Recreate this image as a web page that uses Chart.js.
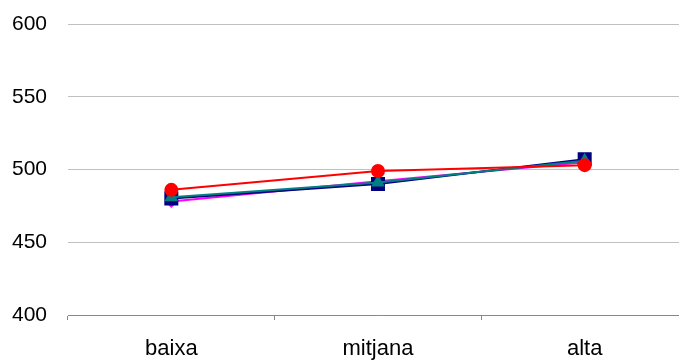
<!DOCTYPE html>
<html>
<head>
<meta charset="utf-8">
<script src="https://cdn.jsdelivr.net/npm/chart.js"></script>
<style>
  html, body { margin: 0; padding: 0; background: #fff; overflow: hidden; }
  #wrap { width: 679px; height: 362px; overflow: hidden; }
  #chart { width: 700px; height: 362px; display: block; }
</style>
</head>
<body>
<div id="wrap"><canvas id="chart" width="700" height="362"></canvas></div>
<script>
// categories and series
const categories = ['baixa', 'mitjana', 'alta'];
const redSeries = [486, 499, 503];
const tealSeries = [481, 491, 506];
const navySeries = [480, 490, 507];
const magentaSeries = [478, 492, 505];
const yTicks = [400, 450, 500, 550, 600];

const family = '"Liberation Sans", Arial, sans-serif';

const ctx = document.getElementById('chart').getContext('2d');
new Chart(ctx, {
  type: 'line',
  data: {
    labels: categories,
    datasets: [
      { data: redSeries, borderColor: '#ff0000', backgroundColor: '#ff0000', pointStyle: 'circle', pointRadius: 6, borderWidth: 2 },
      { data: tealSeries, borderColor: '#008080', backgroundColor: '#008080', pointStyle: 'triangle', pointRadius: 6, borderWidth: 2 },
      { data: navySeries, borderColor: '#000080', backgroundColor: '#000080', pointStyle: 'rect', pointRadius: 8.5, borderWidth: 2 },
      { data: magentaSeries, borderColor: '#ff00ff', backgroundColor: '#ff00ff', pointStyle: 'rectRot', pointRadius: 5, borderWidth: 2 }
    ]
  },
  options: {
    responsive: false,
    animation: false,
    layout: { padding: { left: 0, top: 24, right: 12, bottom: 0 } },
    plugins: { legend: { display: false }, tooltip: { enabled: false } },
    elements: { line: { tension: 0 }, point: { borderWidth: 1 } },
    scales: {
      x: {
        offset: true,
        afterFit: axis => { axis.height = 47; axis.paddingLeft = 0; axis.paddingRight = 0; },
        grid: { drawOnChartArea: false, drawTicks: true, tickLength: 5, color: '#888888', offset: true },
        border: { color: '#888888', width: 1 },
        ticks: { color: '#000', font: { family: family, size: 22 }, padding: 16 }
      },
      y: {
        min: 400,
        max: 600,
        afterFit: axis => { axis.width = 68; axis.paddingTop = 0; axis.paddingBottom = 0; },
        afterBuildTicks: axis => { axis.ticks = yTicks.map(v => ({ value: v })); },
        grid: { color: '#c0c0c0', drawTicks: false, lineWidth: 1 },
        border: { display: false },
        ticks: { color: '#000', font: { family: family, size: 21 }, padding: 21 }
      }
    }
  }
});
</script>
</body>
</html>
